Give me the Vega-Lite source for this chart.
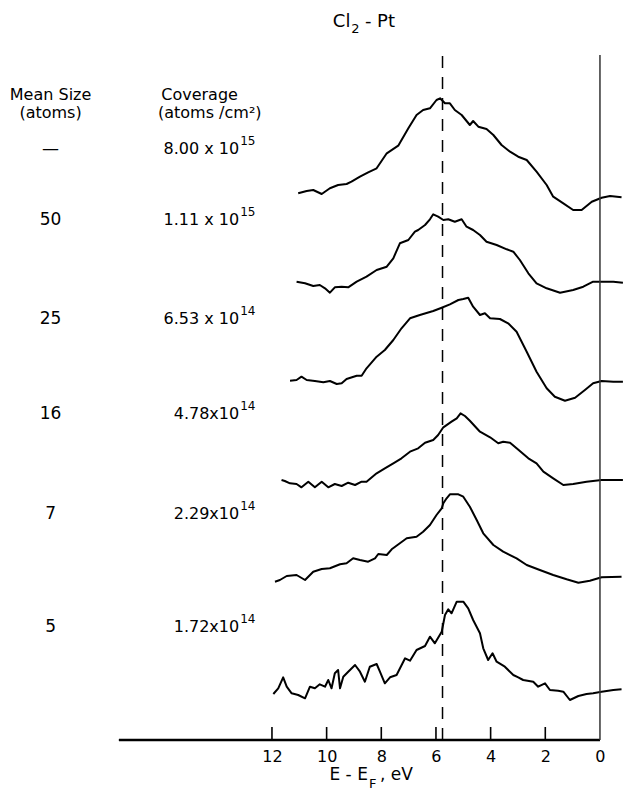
{
"$schema": "https://vega.github.io/schema/vega-lite/v6.json",
"width": 623, "height": 740,
"autosize": {"type": "none"},
"padding": {"left": 0, "right": 0, "top": 0, "bottom": 50},
"background": "white",
"config": {"view": {"stroke": null}, "font": "DejaVu Sans",
  "axisX": {"domain": false, "grid": false, "ticks": false, "labelFontSize": 16, "labelColor": "black", "labelFont": "DejaVu Sans", "labelPadding": 8, "title": null}},
"datasets": {
"spectra": [
{"s":1,"E":11.04,"I":546.7},{"s":1,"E":10.73,"I":549},{"s":1,"E":10.49,"I":550},{"s":1,"E":10.18,"I":546},{"s":1,"E":9.88,"I":551.7},{"s":1,"E":9.58,"I":555},{"s":1,"E":9.27,"I":556},{"s":1,"E":9.09,"I":558.3},{"s":1,"E":8.78,"I":563.3},{"s":1,"E":8.48,"I":567.7},{"s":1,"E":8.17,"I":571.7},{"s":1,"E":7.80,"I":586.7},{"s":1,"E":7.38,"I":594.3},{"s":1,"E":7.01,"I":611.7},{"s":1,"E":6.71,"I":625},{"s":1,"E":6.47,"I":630},{"s":1,"E":6.22,"I":631.7},{"s":1,"E":5.98,"I":640},{"s":1,"E":5.85,"I":641.7},{"s":1,"E":5.67,"I":636.7},{"s":1,"E":5.49,"I":636.7},{"s":1,"E":5.31,"I":630},{"s":1,"E":5.06,"I":625},{"s":1,"E":4.76,"I":615},{"s":1,"E":4.64,"I":619},{"s":1,"E":4.45,"I":613.3},{"s":1,"E":4.15,"I":611},{"s":1,"E":3.90,"I":605},{"s":1,"E":3.60,"I":595},{"s":1,"E":3.29,"I":588.3},{"s":1,"E":2.99,"I":583.3},{"s":1,"E":2.68,"I":580},{"s":1,"E":2.32,"I":568.3},{"s":1,"E":1.95,"I":555},{"s":1,"E":1.71,"I":543.3},{"s":1,"E":1.34,"I":536.7},{"s":1,"E":0.98,"I":530},{"s":1,"E":0.67,"I":530},{"s":1,"E":0.30,"I":538.3},{"s":1,"E":-0.06,"I":542.3},{"s":1,"E":-0.37,"I":544},{"s":1,"E":-0.79,"I":542.7},
{"s":2,"E":11.10,"I":458.3},{"s":2,"E":10.79,"I":456.7},{"s":2,"E":10.49,"I":454},{"s":2,"E":10.25,"I":455},{"s":2,"E":10.06,"I":451.7},{"s":2,"E":9.88,"I":447.3},{"s":2,"E":9.70,"I":452.7},{"s":2,"E":9.45,"I":453.3},{"s":2,"E":9.21,"I":452.7},{"s":2,"E":8.90,"I":458.3},{"s":2,"E":8.54,"I":463.3},{"s":2,"E":8.17,"I":470},{"s":2,"E":7.80,"I":473.3},{"s":2,"E":7.56,"I":481.7},{"s":2,"E":7.32,"I":496.7},{"s":2,"E":7.01,"I":500},{"s":2,"E":6.77,"I":508.3},{"s":2,"E":6.65,"I":510},{"s":2,"E":6.40,"I":515},{"s":2,"E":6.22,"I":520.7},{"s":2,"E":6.10,"I":525.7},{"s":2,"E":5.92,"I":523.3},{"s":2,"E":5.73,"I":520},{"s":2,"E":5.55,"I":520.7},{"s":2,"E":5.31,"I":518.3},{"s":2,"E":5.06,"I":520.7},{"s":2,"E":4.88,"I":513.3},{"s":2,"E":4.64,"I":510},{"s":2,"E":4.39,"I":505},{"s":2,"E":4.15,"I":498.3},{"s":2,"E":3.78,"I":495},{"s":2,"E":3.41,"I":490.7},{"s":2,"E":3.17,"I":488.3},{"s":2,"E":2.93,"I":480},{"s":2,"E":2.62,"I":466.7},{"s":2,"E":2.32,"I":456.7},{"s":2,"E":1.95,"I":451.7},{"s":2,"E":1.46,"I":447.3},{"s":2,"E":0.98,"I":450},{"s":2,"E":0.61,"I":453.3},{"s":2,"E":0.25,"I":458.3},{"s":2,"E":-0.06,"I":458.3},{"s":2,"E":-0.49,"I":458.3},{"s":2,"E":-0.84,"I":457.3},
{"s":3,"E":11.34,"I":359.3},{"s":3,"E":11.10,"I":360},{"s":3,"E":10.92,"I":363.3},{"s":3,"E":10.73,"I":360},{"s":3,"E":10.43,"I":359},{"s":3,"E":10.12,"I":357.7},{"s":3,"E":9.88,"I":359},{"s":3,"E":9.63,"I":356},{"s":3,"E":9.45,"I":356.7},{"s":3,"E":9.27,"I":361},{"s":3,"E":8.90,"I":364.3},{"s":3,"E":8.72,"I":364.3},{"s":3,"E":8.54,"I":371.7},{"s":3,"E":8.17,"I":383.3},{"s":3,"E":7.87,"I":390},{"s":3,"E":7.56,"I":400},{"s":3,"E":7.26,"I":411.7},{"s":3,"E":6.95,"I":421.7},{"s":3,"E":6.59,"I":425},{"s":3,"E":6.10,"I":429},{"s":3,"E":5.79,"I":432.3},{"s":3,"E":5.49,"I":435.7},{"s":3,"E":5.18,"I":440},{"s":3,"E":5.00,"I":441},{"s":3,"E":4.82,"I":442.3},{"s":3,"E":4.64,"I":433.3},{"s":3,"E":4.39,"I":425},{"s":3,"E":4.21,"I":426.7},{"s":3,"E":4.02,"I":421.7},{"s":3,"E":3.66,"I":421},{"s":3,"E":3.36,"I":416.7},{"s":3,"E":3.05,"I":408.3},{"s":3,"E":2.68,"I":388.3},{"s":3,"E":2.32,"I":368.3},{"s":3,"E":1.95,"I":351.7},{"s":3,"E":1.65,"I":343.3},{"s":3,"E":1.28,"I":339.3},{"s":3,"E":0.91,"I":342.3},{"s":3,"E":0.55,"I":350},{"s":3,"E":0.25,"I":356.7},{"s":3,"E":-0.06,"I":359},{"s":3,"E":-0.49,"I":358.3},{"s":3,"E":-0.84,"I":358.3},
{"s":4,"E":11.65,"I":260},{"s":4,"E":11.53,"I":259},{"s":4,"E":11.34,"I":256.7},{"s":4,"E":11.10,"I":256},{"s":4,"E":10.92,"I":252.7},{"s":4,"E":10.67,"I":258.3},{"s":4,"E":10.43,"I":252.7},{"s":4,"E":10.18,"I":258.3},{"s":4,"E":9.94,"I":252.7},{"s":4,"E":9.70,"I":256},{"s":4,"E":9.45,"I":254},{"s":4,"E":9.21,"I":257.3},{"s":4,"E":8.96,"I":255},{"s":4,"E":8.72,"I":258.3},{"s":4,"E":8.54,"I":258.3},{"s":4,"E":8.17,"I":266.7},{"s":4,"E":7.87,"I":271.7},{"s":4,"E":7.56,"I":276.7},{"s":4,"E":7.26,"I":281.7},{"s":4,"E":6.95,"I":288.3},{"s":4,"E":6.65,"I":291.7},{"s":4,"E":6.40,"I":297.3},{"s":4,"E":6.10,"I":300},{"s":4,"E":5.92,"I":305},{"s":4,"E":5.73,"I":312.7},{"s":4,"E":5.43,"I":318.3},{"s":4,"E":5.24,"I":321.7},{"s":4,"E":5.10,"I":326.7},{"s":4,"E":4.94,"I":324},{"s":4,"E":4.76,"I":319.3},{"s":4,"E":4.39,"I":308.3},{"s":4,"E":4.02,"I":302.7},{"s":4,"E":3.72,"I":296.7},{"s":4,"E":3.54,"I":298.3},{"s":4,"E":3.29,"I":297.3},{"s":4,"E":3.05,"I":291.7},{"s":4,"E":2.62,"I":281.7},{"s":4,"E":2.32,"I":276.7},{"s":4,"E":2.07,"I":268.3},{"s":4,"E":1.71,"I":261.7},{"s":4,"E":1.34,"I":255},{"s":4,"E":0.98,"I":256},{"s":4,"E":0.49,"I":258.3},{"s":4,"E":-0.06,"I":260},{"s":4,"E":-0.84,"I":260},
{"s":5,"E":11.89,"I":158.3},{"s":5,"E":11.71,"I":160},{"s":5,"E":11.46,"I":164},{"s":5,"E":11.10,"I":165},{"s":5,"E":10.79,"I":160},{"s":5,"E":10.49,"I":168.3},{"s":5,"E":10.18,"I":171},{"s":5,"E":9.88,"I":171.7},{"s":5,"E":9.51,"I":175.7},{"s":5,"E":9.27,"I":176.7},{"s":5,"E":9.03,"I":181.7},{"s":5,"E":8.78,"I":180},{"s":5,"E":8.48,"I":178.3},{"s":5,"E":8.23,"I":181.7},{"s":5,"E":8.11,"I":186},{"s":5,"E":7.80,"I":185},{"s":5,"E":7.62,"I":190.7},{"s":5,"E":7.32,"I":196.7},{"s":5,"E":7.07,"I":201.7},{"s":5,"E":6.71,"I":203.3},{"s":5,"E":6.47,"I":208.3},{"s":5,"E":6.22,"I":215},{"s":5,"E":5.98,"I":225},{"s":5,"E":5.79,"I":231.7},{"s":5,"E":5.73,"I":236.7},{"s":5,"E":5.61,"I":241.7},{"s":5,"E":5.49,"I":245.7},{"s":5,"E":5.18,"I":245.7},{"s":5,"E":5.00,"I":243.3},{"s":5,"E":4.76,"I":233.3},{"s":5,"E":4.51,"I":220},{"s":5,"E":4.27,"I":206.7},{"s":5,"E":3.90,"I":195},{"s":5,"E":3.54,"I":188.3},{"s":5,"E":3.05,"I":181.7},{"s":5,"E":2.68,"I":175},{"s":5,"E":2.20,"I":170},{"s":5,"E":1.71,"I":165},{"s":5,"E":1.22,"I":160.7},{"s":5,"E":0.79,"I":157.3},{"s":5,"E":0.37,"I":159.3},{"s":5,"E":-0.06,"I":162.7},{"s":5,"E":-0.79,"I":163.3},
{"s":6,"E":11.95,"I":46},{"s":6,"E":11.77,"I":51.7},{"s":6,"E":11.59,"I":62.7},{"s":6,"E":11.46,"I":53.3},{"s":6,"E":11.28,"I":46.7},{"s":6,"E":11.04,"I":45},{"s":6,"E":10.79,"I":41.7},{"s":6,"E":10.61,"I":53.3},{"s":6,"E":10.43,"I":51.7},{"s":6,"E":10.25,"I":55.7},{"s":6,"E":10.06,"I":53.3},{"s":6,"E":9.94,"I":60},{"s":6,"E":9.82,"I":51.7},{"s":6,"E":9.70,"I":66.7},{"s":6,"E":9.58,"I":70},{"s":6,"E":9.51,"I":51.7},{"s":6,"E":9.39,"I":63.3},{"s":6,"E":9.21,"I":68.3},{"s":6,"E":8.96,"I":75},{"s":6,"E":8.78,"I":68.3},{"s":6,"E":8.60,"I":58.3},{"s":6,"E":8.42,"I":73.3},{"s":6,"E":8.17,"I":76},{"s":6,"E":8.05,"I":68.3},{"s":6,"E":7.87,"I":56.7},{"s":6,"E":7.68,"I":62.7},{"s":6,"E":7.44,"I":65},{"s":6,"E":7.13,"I":81.7},{"s":6,"E":6.95,"I":79.3},{"s":6,"E":6.71,"I":90},{"s":6,"E":6.40,"I":94},{"s":6,"E":6.22,"I":103.3},{"s":6,"E":6.04,"I":96.7},{"s":6,"E":5.79,"I":108.3},{"s":6,"E":5.67,"I":125},{"s":6,"E":5.55,"I":130.7},{"s":6,"E":5.43,"I":126.7},{"s":6,"E":5.24,"I":138.3},{"s":6,"E":5.00,"I":138.3},{"s":6,"E":4.82,"I":131.7},{"s":6,"E":4.64,"I":120},{"s":6,"E":4.39,"I":106.7},{"s":6,"E":4.27,"I":91.7},{"s":6,"E":4.09,"I":80},{"s":6,"E":3.93,"I":86.7},{"s":6,"E":3.78,"I":78.3},{"s":6,"E":3.48,"I":73.3},{"s":6,"E":3.17,"I":65},{"s":6,"E":2.99,"I":62.7},{"s":6,"E":2.81,"I":60},{"s":6,"E":2.44,"I":58.3},{"s":6,"E":2.26,"I":53.3},{"s":6,"E":2.01,"I":56.7},{"s":6,"E":1.83,"I":50},{"s":6,"E":1.53,"I":49.3},{"s":6,"E":1.34,"I":48.3},{"s":6,"E":1.10,"I":40},{"s":6,"E":0.79,"I":44},{"s":6,"E":0.49,"I":46},{"s":6,"E":0.25,"I":46.7},{"s":6,"E":-0.06,"I":48.3},{"s":6,"E":-0.49,"I":50},{"s":6,"E":-0.79,"I":50.7}
],
"axispath": [
{"k":1,"E":17.6,"I":0},{"k":2,"E":12,"I":0},{"k":3,"E":12,"I":13},{"k":4,"E":12,"I":0},
{"k":5,"E":10,"I":0},{"k":6,"E":10,"I":13},{"k":7,"E":10,"I":0},
{"k":8,"E":8,"I":0},{"k":9,"E":8,"I":13},{"k":10,"E":8,"I":0},
{"k":11,"E":6,"I":0},{"k":12,"E":6,"I":13},{"k":13,"E":6,"I":0},
{"k":14,"E":4,"I":0},{"k":15,"E":4,"I":13},{"k":16,"E":4,"I":0},
{"k":17,"E":2,"I":0},{"k":18,"E":2,"I":13},{"k":19,"E":2,"I":0},
{"k":20,"E":0,"I":0}
],
"labels": [
{"size":"—","cov":"8.00 x 10","exp":"15","I":591},
{"size":"50","cov":"1.11 x 10","exp":"15","I":520},
{"size":"25","cov":"6.53 x 10","exp":"14","I":421},
{"size":"16","cov":"4.78x10","exp":"14","I":326},
{"size":"7","cov":"2.29x10","exp":"14","I":226},
{"size":"5","cov":"1.72x10","exp":"14","I":113}
],
"one": [{}]
},
"layer": [
{"data": {"name": "spectra"},
 "mark": {"type": "line", "stroke": "black", "strokeWidth": 2, "strokeJoin": "round"},
 "encoding": {
  "x": {"field": "E", "type": "quantitative",
        "scale": {"domain": [-0.843, 21.95], "reverse": true, "nice": false, "zero": false},
        "axis": {"values": [0,2,4,6,8,10,12]}},
  "y": {"field": "I", "type": "quantitative", "scale": {"domain": [0, 740], "nice": false, "zero": false}, "axis": null},
  "detail": {"field": "s"}
 }},
{"data": {"name": "axispath"},
 "mark": {"type": "line", "stroke": "black", "strokeWidth": 1.6, "strokeJoin": "miter"},
 "encoding": {
  "x": {"field": "E", "type": "quantitative"},
  "y": {"field": "I", "type": "quantitative"},
  "order": {"field": "k", "type": "quantitative"}
 }},
{"data": {"name": "one"}, "mark": {"type": "rule", "stroke": "black", "strokeWidth": 2.5},
 "encoding": {"x": {"datum": 17.6, "type": "quantitative"}, "x2": {"datum": 0}, "y": {"datum": 0, "type": "quantitative"}}},
{"data": {"name": "one"}, "mark": {"type": "rule", "stroke": "#333", "strokeWidth": 1.5},
 "encoding": {"x": {"datum": 0, "type": "quantitative"}, "y": {"datum": 0, "type": "quantitative"}, "y2": {"datum": 685}}},
{"data": {"name": "one"}, "mark": {"type": "rule", "stroke": "black", "strokeWidth": 1.5, "strokeDash": [12, 9]},
 "encoding": {"x": {"datum": 5.76, "type": "quantitative"}, "y": {"datum": 0, "type": "quantitative"}, "y2": {"datum": 692}}},
{"data": {"name": "labels"},
 "mark": {"type": "text", "fontSize": 17, "align": "center", "baseline": "middle", "color": "black"},
 "encoding": {"x": {"datum": 20.1, "type": "quantitative"}, "y": {"field": "I", "type": "quantitative"}, "text": {"field": "size"}}},
{"data": {"name": "labels"},
 "mark": {"type": "text", "fontSize": 16, "align": "right", "baseline": "middle", "color": "black"},
 "encoding": {"x": {"datum": 13.2, "type": "quantitative"}, "y": {"field": "I", "type": "quantitative"}, "text": {"field": "cov"}}},
{"data": {"name": "labels"},
 "mark": {"type": "text", "fontSize": 12, "align": "left", "baseline": "middle", "color": "black", "dx": 1, "dy": -8},
 "encoding": {"x": {"datum": 13.2, "type": "quantitative"}, "y": {"field": "I", "type": "quantitative"}, "text": {"field": "exp"}}},
{"data": {"name": "one"}, "mark": {"type": "text", "fontSize": 16, "align": "center", "baseline": "middle", "color": "black"},
 "encoding": {"x": {"datum": 20.1, "type": "quantitative"}, "y": {"datum": 645, "type": "quantitative"}, "text": {"value": "Mean Size"}}},
{"data": {"name": "one"}, "mark": {"type": "text", "fontSize": 16, "align": "center", "baseline": "middle", "color": "black"},
 "encoding": {"x": {"datum": 20.1, "type": "quantitative"}, "y": {"datum": 627, "type": "quantitative"}, "text": {"value": "(atoms)"}}},
{"data": {"name": "one"}, "mark": {"type": "text", "fontSize": 16, "align": "left", "baseline": "middle", "color": "black"},
 "encoding": {"x": {"datum": 16.05, "type": "quantitative"}, "y": {"datum": 645, "type": "quantitative"}, "text": {"value": "Coverage"}}},
{"data": {"name": "one"}, "mark": {"type": "text", "fontSize": 16, "align": "left", "baseline": "middle", "color": "black"},
 "encoding": {"x": {"datum": 16.17, "type": "quantitative"}, "y": {"datum": 627, "type": "quantitative"}, "text": {"value": "(atoms /cm²)"}}},
{"data": {"name": "one"}, "mark": {"type": "text", "fontSize": 18, "align": "right", "baseline": "middle", "color": "black"},
 "encoding": {"x": {"datum": 9.13, "type": "quantitative"}, "y": {"datum": 718, "type": "quantitative"}, "text": {"value": "Cl"}}},
{"data": {"name": "one"}, "mark": {"type": "text", "fontSize": 13, "align": "left", "baseline": "middle", "color": "black"},
 "encoding": {"x": {"datum": 9.1, "type": "quantitative"}, "y": {"datum": 711, "type": "quantitative"}, "text": {"value": "2"}}},
{"data": {"name": "one"}, "mark": {"type": "text", "fontSize": 18, "align": "left", "baseline": "middle", "color": "black"},
 "encoding": {"x": {"datum": 8.6, "type": "quantitative"}, "y": {"datum": 718, "type": "quantitative"}, "text": {"value": "- Pt"}}},
{"data": {"name": "one"}, "mark": {"type": "text", "fontSize": 17, "align": "right", "baseline": "middle", "color": "black"},
 "encoding": {"x": {"datum": 8.49, "type": "quantitative"}, "y": {"datum": -35, "type": "quantitative"}, "text": {"value": "E - E"}}},
{"data": {"name": "one"}, "mark": {"type": "text", "fontSize": 13, "align": "left", "baseline": "middle", "color": "black"},
 "encoding": {"x": {"datum": 8.45, "type": "quantitative"}, "y": {"datum": -44, "type": "quantitative"}, "text": {"value": "F"}}},
{"data": {"name": "one"}, "mark": {"type": "text", "fontSize": 17, "align": "left", "baseline": "middle", "color": "black"},
 "encoding": {"x": {"datum": 8.05, "type": "quantitative"}, "y": {"datum": -35, "type": "quantitative"}, "text": {"value": ", eV"}}}
]
}
